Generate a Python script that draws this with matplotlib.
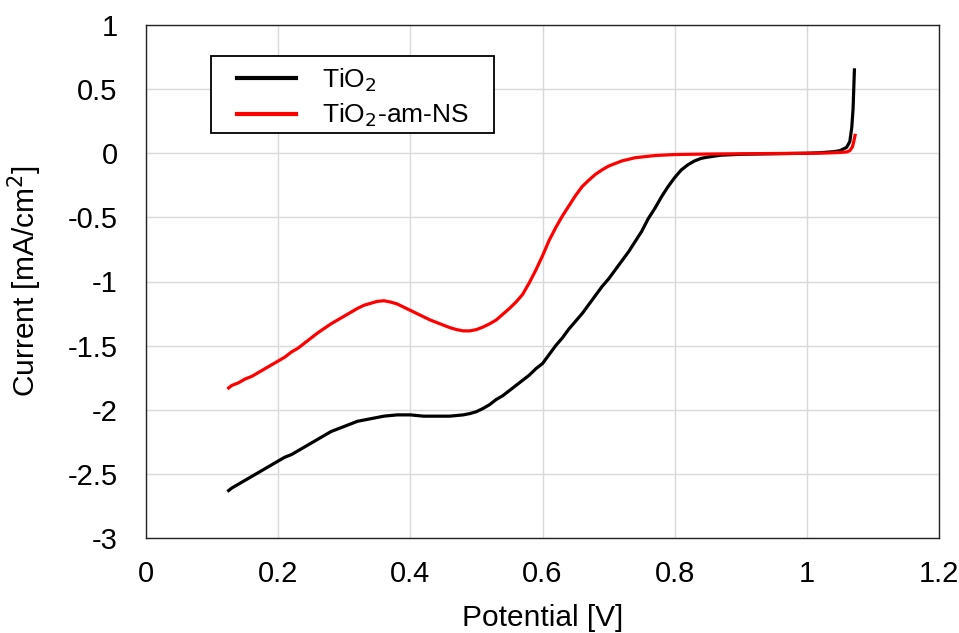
import matplotlib
matplotlib.use("Agg")
import matplotlib.pyplot as plt
from matplotlib.patches import Rectangle

plt.rcParams['font.family'] = ['Liberation Sans', 'DejaVu Sans']
plt.rcParams['axes.unicode_minus'] = False

# TiO2 (black)
tio2_v = [0.125, 0.13, 0.14, 0.15, 0.16, 0.17, 0.18, 0.19, 0.20, 0.21, 0.22, 0.23, 0.24,
          0.25, 0.26, 0.27, 0.28, 0.29, 0.30, 0.31, 0.32, 0.33, 0.34, 0.35, 0.36, 0.37,
          0.38, 0.39, 0.40, 0.41, 0.42, 0.43, 0.44, 0.45, 0.46, 0.47, 0.48, 0.49, 0.50,
          0.51, 0.52, 0.53, 0.54, 0.55, 0.56, 0.57, 0.58, 0.59, 0.60, 0.61, 0.62, 0.63,
          0.64, 0.65, 0.66, 0.67, 0.68, 0.69, 0.70, 0.71, 0.72, 0.73, 0.74, 0.75, 0.76,
          0.77, 0.78, 0.79, 0.80, 0.81, 0.82, 0.83, 0.84, 0.85, 0.87, 0.90, 0.95, 1.00,
          1.02, 1.04, 1.05, 1.06, 1.065, 1.068, 1.07, 1.072]
tio2_i = [-2.63, -2.61, -2.58, -2.55, -2.52, -2.49, -2.46, -2.43, -2.40, -2.37, -2.35, -2.32, -2.29,
          -2.26, -2.23, -2.20, -2.17, -2.15, -2.13, -2.11, -2.09, -2.08, -2.07, -2.06, -2.05, -2.045,
          -2.04, -2.04, -2.04, -2.045, -2.05, -2.05, -2.05, -2.05, -2.05, -2.045, -2.04, -2.03, -2.015,
          -1.99, -1.96, -1.92, -1.89, -1.85, -1.81, -1.77, -1.73, -1.68, -1.64, -1.57, -1.50, -1.44,
          -1.37, -1.31, -1.25, -1.18, -1.11, -1.04, -0.98, -0.91, -0.84, -0.77, -0.69, -0.61, -0.51,
          -0.43, -0.34, -0.26, -0.19, -0.13, -0.09, -0.06, -0.04, -0.03, -0.015, -0.008, -0.004, 0.0,
          0.004, 0.012, 0.02, 0.045, 0.09, 0.2, 0.35, 0.65]

# TiO2-am-NS (red)
ns_v = [0.125, 0.13, 0.14, 0.15, 0.16, 0.17, 0.18, 0.19, 0.20, 0.21, 0.22, 0.23, 0.24,
        0.25, 0.26, 0.27, 0.28, 0.29, 0.30, 0.31, 0.32, 0.33, 0.34, 0.35, 0.36, 0.37,
        0.38, 0.39, 0.40, 0.41, 0.42, 0.43, 0.44, 0.45, 0.46, 0.47, 0.48, 0.49, 0.50,
        0.51, 0.52, 0.53, 0.54, 0.55, 0.56, 0.57, 0.58, 0.59, 0.60, 0.61, 0.62, 0.63,
        0.64, 0.65, 0.66, 0.67, 0.68, 0.69, 0.70, 0.72, 0.74, 0.77, 0.80, 0.85, 0.90,
        0.95, 1.00, 1.03, 1.05, 1.06, 1.065, 1.069, 1.071, 1.073]
ns_i = [-1.83, -1.81, -1.79, -1.76, -1.74, -1.71, -1.68, -1.65, -1.62, -1.59, -1.55, -1.52, -1.48,
        -1.44, -1.40, -1.365, -1.33, -1.30, -1.27, -1.24, -1.21, -1.185, -1.17, -1.155, -1.15, -1.16,
        -1.175, -1.20, -1.225, -1.25, -1.275, -1.30, -1.32, -1.34, -1.36, -1.375, -1.385, -1.385, -1.375,
        -1.355, -1.33, -1.30, -1.255, -1.21, -1.16, -1.10, -1.01, -0.91, -0.80, -0.68, -0.58, -0.49,
        -0.41, -0.33, -0.26, -0.21, -0.165, -0.13, -0.10, -0.06, -0.035, -0.018, -0.01, -0.006, -0.004,
        -0.002, 0.0, 0.002, 0.006, 0.01, 0.02, 0.05, 0.09, 0.14]

x_ticks = [0, 0.2, 0.4, 0.6, 0.8, 1.0, 1.2]
x_tick_labels = ['0', '0.2', '0.4', '0.6', '0.8', '1', '1.2']
y_ticks = [1, 0.5, 0, -0.5, -1, -1.5, -2, -2.5, -3]
y_tick_labels = ['1', '0.5', '0', '-0.5', '-1', '-1.5', '-2', '-2.5', '-3']

W, H = 959, 633
fig = plt.figure(figsize=(W / 100, H / 100), dpi=100)
ax = fig.add_axes([146 / W, 1 - 538 / H, (939 - 146) / W, (538 - 25) / H])

ax.plot(tio2_v, tio2_i, color='black', lw=2.3, label='TiO$_2$', zorder=3)
ax.plot(ns_v, ns_i, color='#ff0000', lw=2.3, label='TiO$_2$-am-NS', zorder=3)

ax.set_xlim(0, 1.2)
ax.set_ylim(-3, 1)
ax.set_xticks(x_ticks)
ax.set_xticklabels(x_tick_labels)
ax.set_yticks(y_ticks)
ax.set_yticklabels(y_tick_labels)
ax.tick_params(axis='both', length=0, labelsize=21)
ax.tick_params(axis='x', pad=16)
ax.tick_params(axis='y', pad=20.5)
ax.grid(True, color='#d9d9d9', lw=1.0, zorder=0)
ax.set_axisbelow(True)
for s in ax.spines.values():
    s.set_color('#222222')
    s.set_linewidth(1.0)

ax.set_xlabel('Potential [V]', fontsize=21.5)
ax.set_ylabel('Current [mA/cm$^2$]', fontsize=21.5)
ax.xaxis.set_label_coords(0.5, (538 - 604) / 513)
ax.yaxis.set_label_coords((44 - 146) / 793, 0.5)

# legend frame (Excel-style box)
fx0, fy0, fx1, fy1 = 211, 56, 494, 133
frame = Rectangle((fx0 / W, 1 - fy1 / H), (fx1 - fx0) / W, (fy1 - fy0) / H,
                  transform=fig.transFigure, facecolor='white', edgecolor='black',
                  lw=1.3, zorder=5)
ax.add_patch(frame)
frame.set_clip_on(False)

leg = ax.legend(loc='upper left', bbox_to_anchor=((237 - 146) / 793, (538 - 66) / 513),
                borderaxespad=0, borderpad=0, frameon=False, fontsize=19,
                handlelength=2.23, handletextpad=1.0, labelspacing=0.32)
leg.set_zorder(6)
for line in leg.get_lines():
    line.set_linewidth(3.0)

fig.savefig('out.png', dpi=100)
